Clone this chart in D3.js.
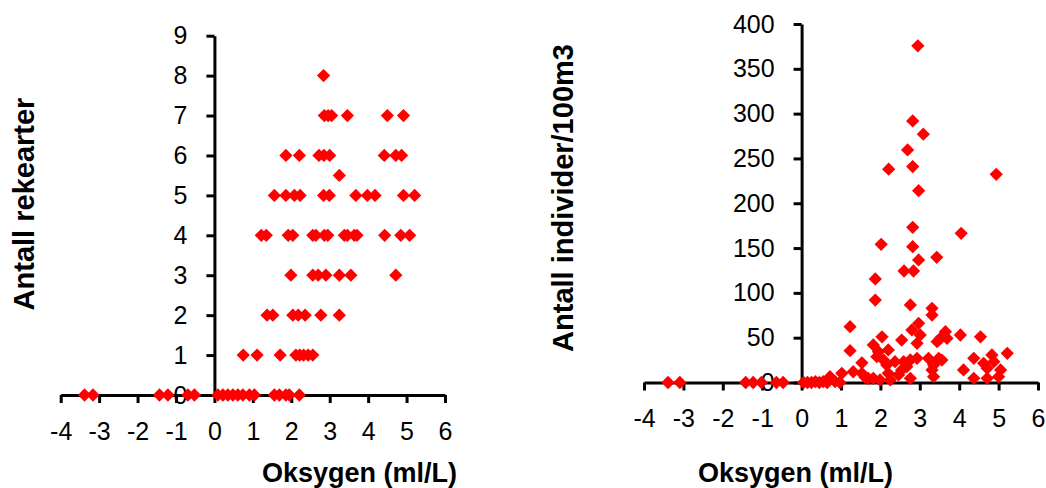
<!DOCTYPE html>
<html>
<head>
<meta charset="utf-8">
<script src="https://cdn.jsdelivr.net/npm/d3@7"></script>
<style>
  body { margin: 0; background: #fff; }
  svg { display: block; font-family: "Liberation Sans", Arial, sans-serif; }
</style>
</head>
<body>
<div id="visual"></div>
<script>
// Left panel: number of shrimp species vs oxygen
const leftOxygen = [
  2.84,
  2.86, 2.96, 3.05, 3.46, 4.50, 4.92,
  1.86, 2.21, 2.72, 2.85, 3.00, 4.42, 4.72, 4.87,
  3.25,
  1.56, 1.86, 2.08, 2.23, 2.84, 2.99, 3.68, 3.98, 4.18, 4.92, 5.21,
  1.22, 1.35, 1.92, 2.04, 2.56, 2.64, 2.86, 2.95, 3.38, 3.46, 3.64, 3.71, 4.43, 4.85, 5.08,
  1.99, 2.56, 2.70, 2.90, 3.25, 3.55, 4.72,
  1.37, 1.52, 2.04, 2.18, 2.36, 2.77, 3.25,
  0.75, 1.11, 1.71, 2.12, 2.22, 2.32, 2.44, 2.56,
  -3.38, -3.16, -1.43, -1.21, -0.69, -0.52, 0.09, 0.22, 0.35, 0.48, 0.61, 0.74, 0.91, 1.04, 1.56, 1.69, 1.86, 1.95, 2.21
];
const leftSpecies = [
  8,
  7, 7, 7, 7, 7, 7,
  6, 6, 6, 6, 6, 6, 6, 6,
  5.5,
  5, 5, 5, 5, 5, 5, 5, 5, 5, 5, 5,
  4, 4, 4, 4, 4, 4, 4, 4, 4, 4, 4, 4, 4, 4, 4,
  3, 3, 3, 3, 3, 3, 3,
  2, 2, 2, 2, 2, 2, 2,
  1, 1, 1, 1, 1, 1, 1, 1,
  0, 0, 0, 0, 0, 0, 0, 0, 0, 0, 0, 0, 0, 0, 0, 0, 0, 0, 0
];

// Right panel: individuals per 100 m3 vs oxygen
const rightOxygen = [
  -3.39, -3.09, -1.42, -1.23, -1.02, -0.64, -0.47,
  0.05, 0.15, 0.25, 0.35, 0.45, 0.55, 0.65, 0.85, 0.97, 0.72,
  1.02, 1.31, 1.53, 1.61, 1.69, 1.82, 1.99, 2.25, 2.20, 2.76, 2.46, 2.54, 2.67,
  3.35, 4.37, 4.71, 5.00, 5.05, 4.62, 4.71, 4.83, 4.88, 5.22, 4.11, 4.37,
  3.35, 3.31, 3.22, 3.48, 3.56, 2.59, 2.76, 2.93, 2.37, 1.53, 2.08, 2.16,
  1.82, 1.95, 2.20, 1.91, 1.23, 2.93, 3.44, 2.04, 2.54, 4.54, 4.03, 3.65, 3.52, 3.69,
  2.97, 2.80, 3.01, 1.23, 3.31, 3.31, 2.76, 1.87,
  1.87, 2.60, 2.84, 2.97, 3.43, 2.82, 2.02, 4.05, 2.82, 2.97, 4.94, 2.82, 2.21, 2.69, 3.09, 2.82, 2.95
];
const rightDensity = [
  0, 0, 0, 0, 0, 0, 0,
  0, 0, 0, 1, 0, 1, 0, 1, 0, 6.5,
  10.3, 12, 10.3, 5.8, 4.7, 4.7, 2.8, 2.8, 10.3, 4.7, 8.4, 14, 17.6,
  6.5, 4.7, 4.7, 6.5, 14, 21.4, 15.8, 30.7, 23.2, 32.6, 14, 27,
  19.5, 14, 27, 27, 25, 23.2, 25.1, 27, 23.2, 22, 25.1, 19.5,
  41.9, 34.4, 36.3, 28.8, 35.5, 43.7, 45.5, 51, 47.4, 51, 53, 56.7, 49.3, 49.3,
  66, 58.6, 53, 62.3, 75.3, 82.8, 86.5, 92,
  115.5, 124.4, 124.4, 136.7, 139.7, 151.6, 154.2, 166.5, 173.2, 214, 232.3, 240.9, 238, 259.5, 277, 291.9, 375.6
];

const xTicks = [-4, -3, -2, -1, 0, 1, 2, 3, 4, 5, 6];
const leftYTicks = [0, 1, 2, 3, 4, 5, 6, 7, 8, 9];
const rightYTicks = [0, 50, 100, 150, 200, 250, 300, 350, 400];

const svg = d3.select("#visual")
  .append("svg")
  .attr("width", 1046)
  .attr("height", 488);

const diamond = d3.symbol().type(d3.symbolSquare).size(88);

function panel(opts) {
  const x = d3.scaleLinear().domain([-4, 6]).range(opts.xRange);
  const y = d3.scaleLinear().domain(opts.yDomain).range(opts.yRange);
  const g = svg.append("g");

  // x axis sits at y = 0, plain hyphen for negatives
  const xAxis = g.append("g")
    .attr("transform", "translate(0," + y(0) + ")")
    .call(d3.axisBottom(x).tickValues(xTicks).tickFormat(d => String(d))
      .tickSize(8).tickSizeOuter(0).tickPadding(19));

  const yAxis = g.append("g")
    .attr("transform", "translate(" + x(0) + ",0)")
    .call(d3.axisLeft(y).tickValues(opts.yTicks).tickFormat(d => String(d))
      .tickSize(8).tickSizeOuter(0).tickPadding(19));

  [xAxis, yAxis].forEach(a => {
    a.select(".domain").attr("stroke", "#000").attr("stroke-width", 3);
    a.selectAll(".tick line").attr("stroke", "#000").attr("stroke-width", 3);
    a.selectAll(".tick text").attr("fill", "#000").style("font-size", "25px");
  });

  // points
  g.selectAll("path.pt")
    .data(opts.xs.map((v, i) => [v, opts.ys[i]]))
    .enter()
    .append("path")
    .attr("class", "pt")
    .attr("d", diamond)
    .attr("transform", d => "translate(" + x(d[0]) + "," + y(d[1]) + ") rotate(45)")
    .attr("fill", "#ff0000");

  // axis titles
  g.append("text")
    .attr("x", opts.xTitlePos[0])
    .attr("y", opts.xTitlePos[1])
    .attr("font-weight", "bold")
    .attr("font-size", "27px")
    .text("Oksygen (ml/L)");

  g.append("text")
    .attr("transform", "translate(" + opts.yTitlePos[0] + "," + opts.yTitlePos[1] + ") rotate(-90)")
    .attr("text-anchor", "middle")
    .attr("font-weight", "bold")
    .attr("font-size", "29px")
    .text(opts.yTitle);
}

panel({
  xRange: [60.7, 445],
  yDomain: [0, 9],
  yRange: [395, 35.7],
  yTicks: leftYTicks,
  xs: leftOxygen,
  ys: leftSpecies,
  xTitlePos: [262, 482],
  yTitlePos: [34, 204],
  yTitle: "Antall rekearter"
});

panel({
  xRange: [644, 1038],
  yDomain: [0, 400],
  yRange: [382.5, 24],
  yTicks: rightYTicks,
  xs: rightOxygen,
  ys: rightDensity,
  xTitlePos: [698, 482],
  yTitlePos: [573, 198],
  yTitle: "Antall individer/100m3"
});
</script>
</body>
</html>
